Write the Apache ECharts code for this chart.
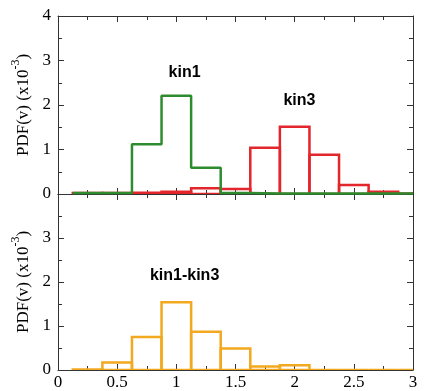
<!DOCTYPE html>
<html>
<head>
<meta charset="utf-8">
<script src="https://cdn.jsdelivr.net/npm/echarts@6/dist/echarts.min.js"></script>
<style>html,body{margin:0;padding:0;background:#fff;}#c{width:425px;height:391px;}</style>
</head>
<body>
<div id="c"></div>
<script>
// Histogram bins (start of each bin, width 0.25, last bin clipped at 3)
var binStart = [0.125,0.375,0.625,0.875,1.125,1.375,1.625,1.875,2.125,2.375,2.625,2.875];
var binWidth = 0.25;
var kin1 = [0.02,0.02,1.12,2.21,0.59,0.02,0.01,0.01,0.01,0.01,0.01,0.01];
var kin3 = [0.02,0.02,0.03,0.05,0.13,0.11,1.04,1.51,0.88,0.20,0.05,0.01];
var kin1kin3 = [0.01,0.17,0.75,1.54,0.87,0.49,0.08,0.11,0.0,0.0,0.0,0.0];
var xTicks = [0,0.5,1,1.5,2,2.5,3];
var yTicks = [0,1,2,3,4];

var xMin = 0, xMax = 3, yMin = 0, yMax = 4;
var serif = 'Liberation Serif';
var axisColor = '#333';

function stepData(vals){
  var d = binStart.map(function(s,i){return [s, vals[i]];});
  d.push([xMax, vals[vals.length-1]]);
  return d;
}
function rectData(vals){
  return binStart.map(function(s,i){return [s, Math.min(s+binWidth, xMax), vals[i]];});
}
function rectSeries(vals, color, xi, yi){
  return {
    type:'custom', xAxisIndex:xi, yAxisIndex:yi, clip:true,
    data: rectData(vals),
    renderItem: function(params, api){
      var p0 = api.coord([api.value(0), api.value(2)]);
      var p1 = api.coord([api.value(1), 0]);
      return {type:'rect', shape:{x:p0[0], y:p0[1], width:p1[0]-p0[0], height:p1[1]-p0[1]},
        style:{fill:'none', stroke:color, lineWidth:2.5}};
    }
  };
}
function xAxis(grid, pos, labels){
  return {
    type:'value', gridIndex:grid, position:pos, min:xMin, max:xMax, interval:0.5,
    axisLine:{show:true, onZero:false, lineStyle:{color:axisColor, width:1}},
    axisTick:{show:true, inside:true, length:6, lineStyle:{color:axisColor}},
    minorTick:{show:true, splitNumber:2, length:4, lineStyle:{color:axisColor}},
    splitLine:{show:false}, minorSplitLine:{show:false},
    axisLabel:{show:labels, margin:4, fontFamily:serif, fontSize:17, color:'#000',
      formatter:function(v){return String(v);}}
  };
}
function yAxis(grid, pos, labels, showMax, withName){
  var a = {
    type:'value', gridIndex:grid, position:pos, min:yMin, max:yMax, interval:1,
    axisLine:{show:true, onZero:false, lineStyle:{color:axisColor, width:1}},
    axisTick:{show:true, inside:true, length:6, lineStyle:{color:axisColor}},
    minorTick:{show:true, splitNumber:2, length:4, lineStyle:{color:axisColor}},
    splitLine:{show:false}, minorSplitLine:{show:false},
    axisLabel:{show:labels, margin:7, fontFamily:serif, fontSize:17, color:'#000', showMaxLabel:showMax}
  };
  if(withName){
    a.name = '{m|PDF(v) (x10}{s|-3}{m|)}';
    a.nameLocation = 'middle';
    a.nameGap = 20;
    a.nameTextStyle = {
      rich:{
        m:{fontFamily:serif, fontSize:17, color:'#000', verticalAlign:'bottom', lineHeight:22},
        s:{fontFamily:serif, fontSize:12, color:'#000', verticalAlign:'top', lineHeight:22, padding:[0,0,8,0]}
      }
    };
  }
  return a;
}
function labelSeries(text, x, y, xi, yi){
  return {
    type:'scatter', xAxisIndex:xi, yAxisIndex:yi, symbolSize:0, silent:true,
    itemStyle:{opacity:1},
    data:[[x,y]],
    label:{show:true, position:'inside', formatter:text, opacity:1,
      fontFamily:'Liberation Sans', fontWeight:'bold', fontSize:16, color:'#000'}
  };
}

var chart = echarts.init(document.getElementById('c'), null, {renderer:'canvas'});
chart.setOption({
  animation:false,
  backgroundColor:'#fff',
  grid:[
    {left:58, right:12, top:16, height:178},
    {left:58, right:12, top:194, height:178}
  ],
  xAxis:[ xAxis(0,'bottom',false), xAxis(0,'top',false), xAxis(1,'bottom',true), xAxis(1,'top',false) ],
  yAxis:[ yAxis(0,'left',true,true,true), yAxis(0,'right',false,true,false),
          yAxis(1,'left',true,false,true), yAxis(1,'right',false,false,false) ],
  series:[
    rectSeries(kin3, '#e3262b', 0, 0),
    {type:'line', xAxisIndex:0, yAxisIndex:0, step:'end', symbol:'none', data:stepData(kin1),
     lineStyle:{color:'#2e8b2e', width:2.5}},
    rectSeries(kin1kin3, '#f2a81f', 2, 2),
    labelSeries('kin1', 1.07, 2.72, 0, 0),
    labelSeries('kin3', 2.04, 2.11, 0, 0),
    labelSeries('kin1-kin3', 1.07, 2.14, 2, 2)
  ]
});
</script>
</body>
</html>
